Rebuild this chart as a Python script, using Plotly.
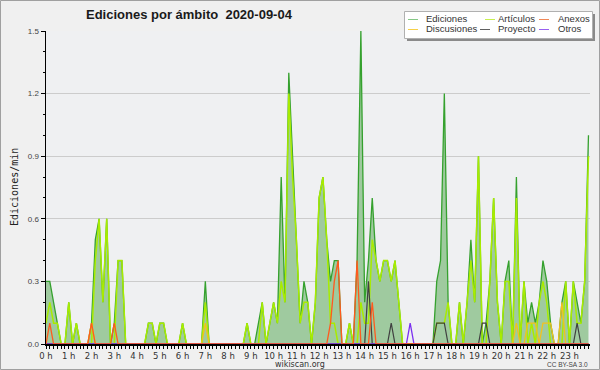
import plotly.graph_objects as go

# ---- data (10-minute slots, edits per minute) ----
slot_minutes = list(range(0, 1440, 10))
hour_ticks = list(range(24))
hour_labels = [f"{h} h" for h in hour_ticks]

ediciones = [
    0.3, 0.3, 0.2, 0.1, 0, 0,
    0.2, 0, 0.1, 0, 0, 0,
    0.1, 0.5, 0.6, 0.2, 0.6, 0,
    0.1, 0.4, 0.4, 0, 0, 0,
    0, 0, 0, 0.1, 0.1, 0,
    0.1, 0.1, 0, 0, 0, 0,
    0.1, 0, 0, 0, 0, 0,
    0.3, 0, 0, 0, 0, 0,
    0, 0, 0, 0, 0, 0.1,
    0, 0, 0.1, 0.2, 0, 0.1,
    0.2, 0.1, 0.8, 0.2, 1.3, 0.9,
    0.5, 0.1, 0.3, 0.2, 0, 0.2,
    0.7, 0.8, 0.5, 0.3, 0.4, 0.4,
    0, 0, 0.1, 0, 0.4, 1.5,
    0.2, 0.4, 0.7, 0.4, 0.3, 0.4,
    0.4, 0.3, 0.4, 0.2, 0, 0,
    0, 0, 0, 0, 0, 0,
    0, 0.3, 0.4, 1.2, 0.2, 0,
    0, 0.2, 0, 0.2, 0.5, 0.2,
    0.9, 0, 0.1, 0.3, 0.7, 0.2,
    0, 0.3, 0.4, 0, 0.8, 0,
    0.3, 0.1, 0.2, 0.1, 0.2, 0.4,
    0.3, 0.1, 0, 0, 0.2, 0.3,
    0, 0.3, 0.2, 0.1, 0.3, 1.0,
]

articulos = [
    0.1, 0.2, 0.1, 0.1, 0, 0,
    0.2, 0, 0.1, 0, 0, 0,
    0, 0.4, 0.6, 0.2, 0.6, 0,
    0, 0.4, 0.4, 0, 0, 0,
    0, 0, 0, 0.1, 0.1, 0,
    0.1, 0.1, 0, 0, 0, 0,
    0.1, 0, 0, 0, 0, 0,
    0.2, 0, 0, 0, 0, 0,
    0, 0, 0, 0, 0, 0.1,
    0, 0, 0, 0.2, 0, 0.1,
    0.2, 0.1, 0.3, 0.2, 1.2, 0.8,
    0.5, 0.1, 0.2, 0.2, 0, 0.2,
    0.7, 0.8, 0.5, 0.1, 0.1, 0,
    0, 0, 0.1, 0, 0, 0.2,
    0.1, 0.1, 0.5, 0.4, 0.3, 0.4,
    0.4, 0.3, 0.4, 0.2, 0, 0,
    0, 0, 0, 0, 0, 0,
    0, 0.1, 0.1, 0.1, 0.2, 0,
    0, 0.2, 0, 0.2, 0.4, 0.2,
    0.9, 0, 0, 0.3, 0.7, 0.2,
    0, 0.3, 0.3, 0, 0.7, 0,
    0.3, 0, 0.1, 0, 0.2, 0.3,
    0.2, 0, 0, 0, 0, 0.3,
    0, 0.3, 0.1, 0.1, 0.3, 0.9,
]

discusiones = [0.0] * 144
for i, v in [(12, 0.1), (42, 0.1), (124, 0.1), (127, 0.1), (128, 0.1), (129, 0.1),
             (131, 0.1), (132, 0.1), (133, 0.1), (136, 0.2)]:
    discusiones[i] = v

anexos = [0.0] * 144
for i, v in [(1, 0.1), (12, 0.1), (18, 0.1), (75, 0.1), (76, 0.3), (77, 0.4),
             (82, 0.4), (86, 0.2)]:
    anexos[i] = v

proyecto = [0.0] * 144
for i, v in [(85, 0.3), (91, 0.1), (103, 0.1), (104, 0.1), (105, 0.1),
             (115, 0.1), (116, 0.1), (140, 0.1)]:
    proyecto[i] = v

otros = [0.0] * 144
for i, v in [(96, 0.1)]:
    otros[i] = v

y_ticks = [0.0, 0.3, 0.6, 0.9, 1.2, 1.5]
y_labels = ["0.0", "0.3", "0.6", "0.9", "1.2", "1.5"]

# ---- styling ----
W, H = 600, 370
L, R, T, B = 46, 10, 31, 26
PW = W - L - R
PH = H - T - B


def xp(px):
    return (px - L) / PW


def yp(py):
    return (H - B - py) / PH


x_hours = [m / 60 for m in slot_minutes]

C_ED = "#35a12e"
C_FILL = "#9fca9f"
C_ART = "#a8ec00"
C_DISC = "#f2c21e"
C_ANEX = "#ff5a1e"
C_PROY = "#404040"
C_OTROS = "#7a2ff0"

fig = go.Figure()
fig.add_trace(go.Scatter(x=x_hours, y=ediciones, mode="lines", fill="tozeroy",
                         fillcolor=C_FILL, line=dict(color=C_ED, width=1.3),
                         name="Ediciones"))
fig.add_trace(go.Scatter(x=x_hours, y=articulos, mode="lines",
                         line=dict(color=C_ART, width=1.5), name="Artículos"))
fig.add_trace(go.Scatter(x=x_hours, y=discusiones, mode="lines",
                         line=dict(color=C_DISC, width=1.3), name="Discusiones"))
fig.add_trace(go.Scatter(x=x_hours, y=proyecto, mode="lines",
                         line=dict(color=C_PROY, width=1.2), name="Proyecto"))
fig.add_trace(go.Scatter(x=x_hours, y=otros, mode="lines",
                         line=dict(color=C_OTROS, width=1.3), name="Otros"))
fig.add_trace(go.Scatter(x=x_hours, y=anexos, mode="lines",
                         line=dict(color=C_ANEX, width=1.3), name="Anexos"))

shapes = []
# outer frame
shapes.append(dict(type="rect", xref="paper", yref="paper",
                   x0=xp(0.5), x1=xp(599.5), y0=yp(369.5), y1=yp(0.5),
                   line=dict(color="#a0a0a0", width=1), layer="above"))
# legend shadow + box
shapes.append(dict(type="rect", xref="paper", yref="paper",
                   x0=xp(407), x1=xp(595), y0=yp(41), y1=yp(14),
                   fillcolor="#8a8a8a", line=dict(width=0), layer="above"))
shapes.append(dict(type="rect", xref="paper", yref="paper",
                   x0=xp(404.5), x1=xp(592.5), y0=yp(38.5), y1=yp(11.5),
                   fillcolor="#ffffff", line=dict(color="#b0b0b0", width=1), layer="above"))

legend_items = [
    ("Ediciones", "#86c886", 408, 424, 19),
    ("Artículos", "#c8f050", 485, 496, 19),
    ("Anexos", "#f08858", 539, 556, 19),
    ("Discusiones", "#f6d048", 408, 424, 29),
    ("Proyecto", "#606060", 480, 496, 29),
    ("Otros", "#9860f0", 539, 556, 29),
]
annotations = []
for label, col, sx, tx, ty in legend_items:
    shapes.append(dict(type="line", xref="paper", yref="paper",
                       x0=xp(sx), x1=xp(sx + 10), y0=yp(ty + 0.5), y1=yp(ty + 0.5),
                       line=dict(color=col, width=1), layer="above"))
    annotations.append(dict(text=label, xref="paper", yref="paper", x=xp(tx), y=yp(ty),
                            xanchor="left", yanchor="middle", showarrow=False,
                            font=dict(family="Liberation Sans", size=9.5, color="#333333")))

annotations.append(dict(text="<b>Ediciones por ámbito  2020-09-04</b>", xref="paper", yref="paper",
                        x=xp(84), y=yp(14), xanchor="left", yanchor="middle", showarrow=False,
                        font=dict(family="Liberation Sans", size=13, color="#1a1a1a")))
annotations.append(dict(text="Ediciones/min", xref="paper", yref="paper",
                        x=xp(14), y=yp(187), xanchor="center", yanchor="middle",
                        textangle=-90, showarrow=False,
                        font=dict(family="DejaVu Sans Mono", size=10, color="#222222")))
annotations.append(dict(text="wikiscan.org", xref="paper", yref="paper",
                        x=xp(300), y=yp(364), xanchor="center", yanchor="middle", showarrow=False,
                        font=dict(family="DejaVu Sans", size=8, color="#333333")))
annotations.append(dict(text="CC BY-SA 3.0", xref="paper", yref="paper",
                        x=xp(590), y=yp(364.5), xanchor="right", yanchor="middle", showarrow=False,
                        font=dict(family="Liberation Sans", size=6.5, color="#444444")))

fig.update_layout(
    width=W, height=H,
    margin=dict(l=L, r=R, t=T, b=B, pad=0),
    paper_bgcolor="#f0f0f0",
    plot_bgcolor="#eff0f2",
    showlegend=False,
    shapes=shapes,
    annotations=annotations,
    xaxis=dict(range=[0, 23.9], tickmode="array", tickvals=hour_ticks, ticktext=hour_labels,
               showgrid=False, zeroline=False, showline=True, linecolor="#000000", linewidth=1.5,
               ticks="outside", ticklen=3, tickcolor="#000000", tickwidth=1,
               tickfont=dict(family="DejaVu Sans", size=8.5, color="#333333"),
               minor=dict(tickmode="linear", tick0=0, dtick=1 / 6, ticks="outside",
                          ticklen=3, tickcolor="#000000", tickwidth=1)),
    yaxis=dict(range=[0, 1.5], tickmode="array", tickvals=y_ticks, ticktext=y_labels,
               showgrid=True, gridcolor="#cccccc", gridwidth=1, zeroline=False,
               showline=True, linecolor="#000000", linewidth=1.5,
               ticks="outside", ticklen=4, tickcolor="#000000", tickwidth=1,
               tickfont=dict(family="Liberation Sans", size=8, color="#444444"),
               minor=dict(tickmode="linear", tick0=0, dtick=0.1, ticks="outside",
                          ticklen=2, tickcolor="#000000", tickwidth=1)),
)

fig.write_html("out.html", config={"staticPlot": True, "displayModeBar": False},
               post_script="document.body.style.margin='0';document.body.style.overflow='hidden';")
